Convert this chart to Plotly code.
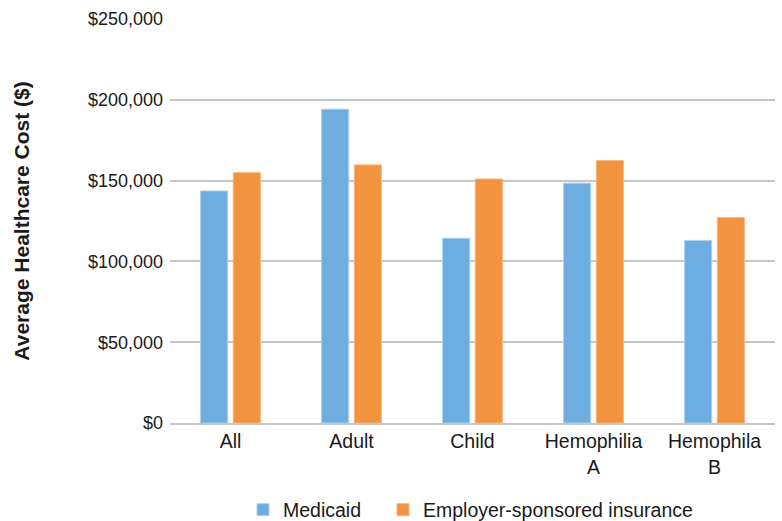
import plotly.graph_objects as go

categories = ["All", "Adult", "Child", "Hemophilia<br>A", "Hemophila<br>B"]
medicaid = [143600, 194200, 114300, 148400, 113000]
employer = [154900, 159700, 151000, 162400, 127100]
tick_vals = [0, 50000, 100000, 150000, 200000, 250000]
tick_text = ["$0", "$50,000", "$100,000", "$150,000", "$200,000", "$250,000"]

font_family = "Liberation Sans, Arial, sans-serif"

fig = go.Figure()
fig.add_trace(go.Bar(
    name="Medicaid", x=categories, y=medicaid, legend="legend",
    marker=dict(color="#6eaddf", line=dict(color="#a9d0ee", width=1)),
))
fig.add_trace(go.Bar(
    name="Employer-sponsored insurance", x=categories, y=employer, legend="legend2",
    marker=dict(color="#f2933f", line=dict(color="#f7b67c", width=1)),
))

legend_common = dict(
    orientation="h", xref="container", xanchor="left",
    y=11 / 521, yref="container", yanchor="middle",
    font=dict(size=19.5, color="#1a1a1a"), itemwidth=30,
    bgcolor="rgba(0,0,0,0)", borderwidth=0,
)

fig.update_layout(
    width=782, height=521,
    margin=dict(l=170, r=7, t=19, b=98),
    paper_bgcolor="white", plot_bgcolor="white",
    barmode="group", bargap=0.46, bargroupgap=0.17,
    font=dict(family=font_family, size=19, color="#1a1a1a"),
    showlegend=True,
    legend=dict(x=243 / 782, **legend_common),
    legend2=dict(x=383 / 782, **legend_common),
    yaxis=dict(
        range=[0, 250000], tickvals=tick_vals, ticktext=tick_text,
        showgrid=True, gridcolor="#c6c6c6", gridwidth=1.5,
        zeroline=False, showline=False,
        ticklabelstandoff=6,
        tickfont=dict(size=18, color="#1a1a1a"),
        title=dict(text="<b>Average Healthcare Cost ($)</b>", font=dict(size=21, color="#1a1a1a"), standoff=52),
    ),
    xaxis=dict(
        showgrid=False, zeroline=False,
        showline=True, linecolor="#c6c6c6", linewidth=1.5,
        tickfont=dict(size=19.5, color="#1a1a1a"),
        tickangle=0, ticks="",
    ),
)

fig.write_html("out.html")
